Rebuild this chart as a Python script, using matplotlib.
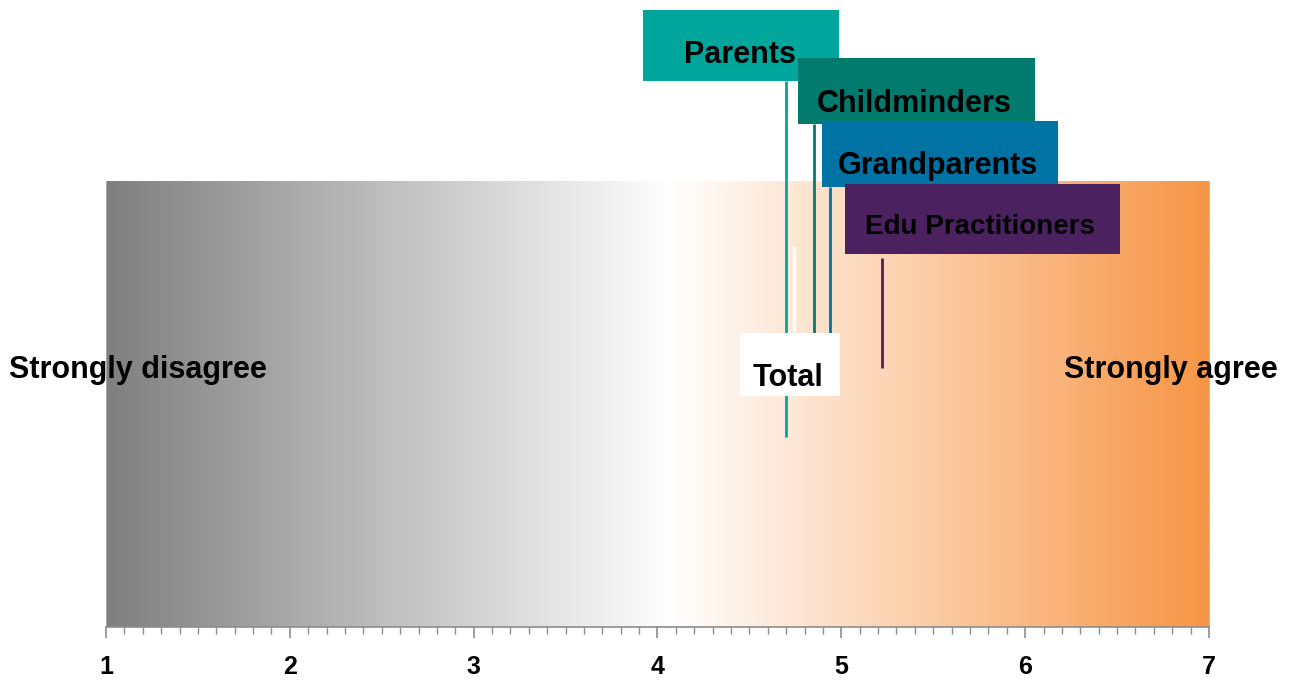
import numpy as np
import matplotlib
matplotlib.use("Agg")
import matplotlib.pyplot as plt
from matplotlib.colors import LinearSegmentedColormap
from matplotlib.patches import Rectangle
from matplotlib.ticker import MultipleLocator

plt.rcParams['font.family'] = ['Liberation Sans', 'DejaVu Sans']
plt.rcParams['font.weight'] = 'bold'

# Mean agreement scores on a 1-7 scale
groups = ["Parents", "Childminders", "Grandparents", "Edu Practitioners"]
scores = [4.70, 4.85, 4.94, 5.22]
total_score = 4.74
scale_ticks = [1, 2, 3, 4, 5, 6, 7]
scale_ends = ["Strongly disagree", "Strongly agree"]

# Label layout (x in score units, y in axes fraction)
box_colors = ["#00A69C", "#007B6E", "#0072A3", "#4B2160"]
box_x = [(3.92, 4.99), (4.765, 6.054), (4.896, 6.180), (5.021, 6.517)]
box_y = [(1.224, 1.383), (1.128, 1.276), (0.987, 1.135), (0.836, 0.993)]
text_x = [4.449, 5.396, 5.527, 5.755]
text_base = [1.265, 1.155, 1.016, 0.881]
text_size = [22, 22, 22, 20]
line_y = [(0.426, 1.224), (0.659, 1.128), (0.659, 0.987), (0.581, 0.827)]

fig = plt.figure(figsize=(12.98, 6.8), dpi=100)
ax = fig.add_axes([106 / 1298, 53 / 680, 1103 / 1298, 446 / 680])
ax.set_xlim(1, 7)
ax.set_ylim(0, 1)

# Background gradient: grey -> white -> orange
cmap = LinearSegmentedColormap.from_list(
    "agree", [(0.0, "#808080"), (0.512, "#FFFFFF"), (1.0, "#F79646")])
grad = np.linspace(0, 1, 600).reshape(1, -1)
ax.imshow(grad, cmap=cmap, aspect="auto", extent=(1, 7, 0, 1),
          interpolation="bilinear", zorder=0)

ax.spines["top"].set_visible(False)
for side in ["left", "right"]:
    ax.spines[side].set_color("#B0B0B0")
    ax.spines[side].set_linewidth(0.6)
ax.spines["bottom"].set_color("#8C8C8C")
ax.spines["bottom"].set_linewidth(1.2)

ax.set_yticks([])
ax.set_xticks(scale_ticks)
ax.xaxis.set_minor_locator(MultipleLocator(0.1))
ax.tick_params(axis="x", which="major", length=8, width=1.2, color="#8C8C8C",
               pad=12.5, labelsize=18)
ax.tick_params(axis="x", which="minor", length=5, width=1.0, color="#8C8C8C")
for lbl in ax.get_xticklabels():
    lbl.set_fontweight("bold")

trans = ax.get_xaxis_transform()

# Leader lines
for s, (y0, y1), c in zip(scores, line_y, box_colors):
    ax.plot([s, s], [y0, y1], color=c, lw=2, transform=trans,
            clip_on=False, zorder=3, solid_capstyle="butt")
ax.plot([total_score, total_score], [0.666, 0.850], color="white", lw=2.5,
        transform=trans, clip_on=False, zorder=3)

# Group label boxes
for name, c, (x0, x1), (y0, y1), tx, tb, fs in zip(
        groups, box_colors, box_x, box_y, text_x, text_base, text_size):
    ax.add_patch(Rectangle((x0, y0), x1 - x0, y1 - y0, facecolor=c,
                           edgecolor="none", transform=trans, clip_on=False,
                           zorder=4))
    ax.text(tx, tb, name, transform=trans, ha="center", va="baseline",
            fontsize=fs, fontweight="bold", color="black", zorder=5,
            clip_on=False)

# Total label
ax.add_patch(Rectangle((4.449, 0.518), 4.993 - 4.449, 0.659 - 0.518,
                       facecolor="white", edgecolor="none", transform=trans,
                       clip_on=False, zorder=4))
ax.text(4.711, 0.540, "Total", transform=trans, ha="center", va="baseline",
        fontsize=22, fontweight="bold", color="black", zorder=5)

# Scale end labels
ax.text(0.472, 0.558, scale_ends[0], transform=trans, ha="left",
        va="baseline", fontsize=22, fontweight="bold", color="black",
        zorder=5, clip_on=False)
ax.text(7.376, 0.558, scale_ends[1], transform=trans, ha="right",
        va="baseline", fontsize=22, fontweight="bold", color="black",
        zorder=5, clip_on=False)

fig.savefig("out.png", dpi=100)
